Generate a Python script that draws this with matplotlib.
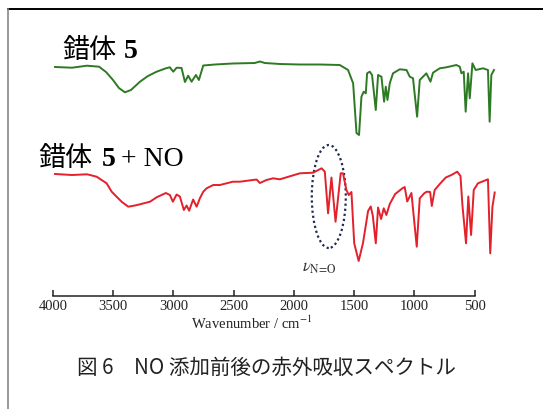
import matplotlib
matplotlib.use("Agg")
import matplotlib.pyplot as plt
from matplotlib.patches import Ellipse
from matplotlib.lines import Line2D

plt.rcParams["font.family"] = ["Liberation Serif", "DejaVu Sans"]
plt.rcParams["mathtext.fontset"] = "stix"

W, H = 543, 409

# complex 5 (green), wavenumber / cm-1 and transmittance (a.u.)
wn_5 = [3983, 3842, 3718, 3618, 3560, 3502, 3453, 3403, 3353, 3278, 3212, 3140,
        3063, 3030, 3002, 2974, 2933, 2905, 2878, 2850, 2814, 2789, 2753, 2656,
        2507, 2325, 2283, 2242, 2117, 1951, 1786, 1620, 1551, 1509, 1481, 1460,
        1440, 1421, 1404, 1393, 1371, 1352, 1321, 1302, 1274, 1252, 1238, 1224,
        1205, 1178, 1122, 1066, 1039, 1012, 978, 956, 929, 901, 867, 846, 790,
        735, 652, 624, 610, 591, 575, 555, 541, 519, 492, 431, 390, 376, 362, 340]
t_5 = [229, 228.3, 230.3, 229.3, 224, 216, 208, 203.7, 206, 214.3, 220, 224.3,
       227.7, 228.7, 224.3, 228.3, 228, 214, 220.3, 214.3, 221, 216, 230.5, 231.5,
       232.5, 233, 234.5, 233, 232, 231.5, 231.5, 231, 226, 212.7, 163, 161,
       199.3, 204.3, 202.7, 222.7, 224.3, 221, 186, 221, 219.3, 194.3, 209.3, 196,
       212.7, 222.7, 226.7, 226, 219.3, 217.7, 179.3, 216, 219.3, 222.7, 214.3, 223.3, 227.7,
       228.7, 231, 229.3, 222.7, 224.3, 184.3, 222.7, 197.7, 232.7, 226, 227.7, 226, 174.3, 221, 226]

# complex 5 + NO (red)
wn_5no = [3983, 3842, 3718, 3693, 3638, 3555, 3513, 3472, 3428, 3375, 3320, 3278,
          3195, 3140, 3063, 3030, 3005, 2974, 2947, 2914, 2891, 2870, 2837, 2808,
          2781, 2753, 2725, 2670, 2615, 2507, 2449, 2310, 2283, 2228, 2173, 2117,
          1951, 1841, 1771, 1744, 1717, 1689, 1655, 1612, 1593, 1565, 1545, 1523,
          1500, 1463, 1427, 1385, 1363, 1346, 1321, 1302, 1277, 1255, 1233, 1205,
          1160, 1100, 1081, 1060, 1025, 981, 956, 919, 898, 870, 856, 832, 790,
          740, 693, 645, 618, 602, 572, 553, 530, 508, 473, 390, 371, 353, 334]
t_5no = [122, 121, 121.7, 121, 119.3, 112.7, 104.3, 99.3, 94, 89.3, 90.5, 91.7,
         94.3, 98.7, 103, 101, 94.3, 101.5, 99.5, 86, 90.5, 85.3, 96.5, 89.3,
         97.7, 104.3, 107.7, 111, 111, 114.3, 114.3, 116.5, 113, 116, 117.7, 116.7,
         122.7, 123.3, 127.7, 124.3, 82.7, 118.5, 74.3, 122.7, 122.7, 106, 101, 104,
         52.7, 35, 53, 85, 89.5, 80.5, 52.7, 88.5, 77, 87.7, 81, 92,
         102, 107.7, 109, 94.5, 103, 49.3, 97.7, 102.7, 104.3, 104, 90, 106, 112,
         118.5, 121, 124.3, 120, 91, 52.7, 99.5, 61, 106, 112.7, 116.7, 42.7, 89, 103.5]

xticks = [4000, 3500, 3000, 2500, 2000, 1500, 1000, 500]

fig = plt.figure(figsize=(W / 100, H / 100), dpi=100)
ax = fig.add_axes([53 / W, 1 - 296 / H, 447 / W, 266 / H])

ax.plot(wn_5, t_5, color="#2e7a24", lw=1.4)
ax.plot(wn_5no, t_5no, color="#e3202b", lw=1.4)

# dotted ellipse around the N=O stretch
ax.add_patch(Ellipse((1711, 99.5), 282, 103, fill=False, ec="#1f2b4f",
                     ls=(0, (1, 1.3)), lw=1.6))
ax.text(1790, 28, r"$\mathit{\nu}_{\mathrm{N\!=\!O}}$", ha="center", va="center",
        fontsize=12, color="#333333")

ax.set_xlim(4000, 290)
ax.set_ylim(0, 266)
for s in ["top", "left", "right"]:
    ax.spines[s].set_visible(False)
ax.spines["bottom"].set_bounds(500, 4000)
ax.spines["bottom"].set_linewidth(1.1)
ax.spines["bottom"].set_color("#222222")
ax.set_yticks([])
ax.set_xticks(xticks)
ax.tick_params(axis="x", direction="in", length=4, width=1.1, pad=3,
               labelsize=10.5, colors="#222222")

fig.text(252 / W, 1 - 323 / H, r"Wavenumber / cm$^{-1}$", ha="center", va="center",
         fontsize=10.5, color="#222222")

# spectrum labels
fig.text(62 / W, 1 - 58 / H, "錯体", family="Noto Sans CJK JP", fontsize=19.5,
         va="baseline", ha="left")
fig.text(124 / W, 1 - 58 / H, "5", fontweight="bold",
         fontsize=20, va="baseline", ha="left")
fig.text(38 / W, 1 - 166 / H, "錯体", family="Noto Sans CJK JP", fontsize=19.5,
         va="baseline", ha="left")
fig.text(102 / W, 1 - 166 / H, "5", fontweight="bold",
         fontsize=20, va="baseline", ha="left")
fig.text(121 / W, 1 - 166 / H, "+ NO", fontsize=20, va="baseline", ha="left")

# caption
fig.text(266 / W, 1 - 368 / H, "図 6　NO 添加前後の赤外吸収スペクトル",
         family=["Noto Sans CJK JP", "DejaVu Sans"], fontsize=14.8,
         ha="center", va="center", color="#222222")

# frame
fig.add_artist(Line2D([8 / W, 1], [1 - 9 / H, 1 - 9 / H], color="black", lw=1.4))
fig.add_artist(Line2D([8 / W, 8 / W], [0, 1 - 9 / H], color="#888888", lw=1.2))

fig.savefig("out.png", dpi=100)
